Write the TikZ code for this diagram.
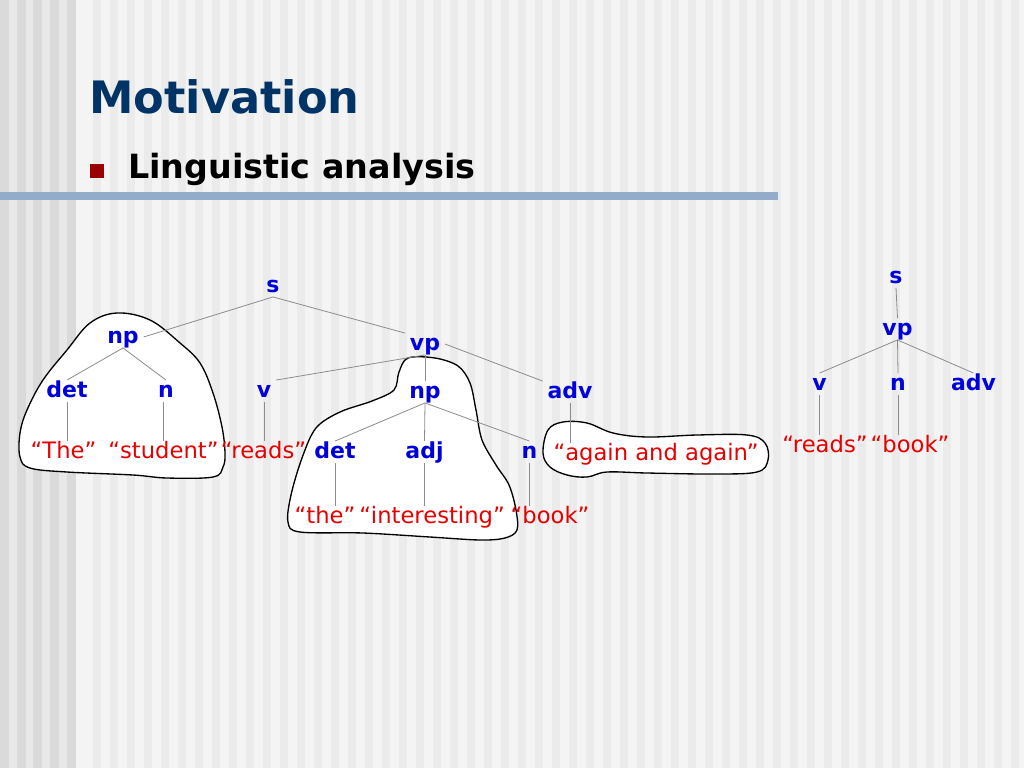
\documentclass[tikz,border=0pt]{standalone}
\usepackage{fontspec}
\setmainfont{DejaVu Sans}
\definecolor{bgbase}{RGB}{244,244,244}
\definecolor{bgstripe}{RGB}{235,235,235}
\definecolor{bgleft}{RGB}{232,232,232}
\definecolor{bgleftstripe}{RGB}{218,218,218}
\definecolor{titleblue}{RGB}{0,51,102}
\definecolor{bulletred}{RGB}{153,0,0}
\definecolor{barblue}{RGB}{146,172,202}
\definecolor{nodeblue}{RGB}{0,0,221}
\definecolor{leafred}{RGB}{230,0,0}
\definecolor{edgegray}{RGB}{140,140,140}
\begin{document}
\begin{tikzpicture}[x=0.75pt,y=-0.75pt,
  cat/.style={text=nodeblue, font=\bfseries\fontsize{16.5}{19}\selectfont, anchor=base, inner sep=3.5pt, text height=9pt, text depth=0pt},
  leaf/.style={text=leafred, font=\fontsize{17}{20}\selectfont, anchor=base, inner sep=0.5pt, text height=12pt, text depth=3pt},
  branch/.style={draw=edgegray, line width=0.6pt},
  blob/.style={draw=black, fill=white, line width=1pt}]
\useasboundingbox (0,0) rectangle (1024,768);
% background
\fill[bgbase] (0,0) rectangle (1024,768);
\fill[bgleft] (0,0) rectangle (76,768);
\foreach \x in {0,17,33,50,67} \fill[bgleftstripe] (\x,0) rectangle ++(8.5,768);
\foreach \x in {93,110,...,1024} \fill[bgstripe] (\x,0) rectangle ++(8,768);
% title
\node[anchor=base west, inner sep=0pt, text=titleblue, font=\bfseries\fontsize{33.5}{40}\selectfont] (title) at (89,113) {Motivation};
\node[fill=bulletred, minimum size=10.5pt, inner sep=0pt, anchor=north west] (bullet) at (90,164) {};
\node[anchor=base west, inner sep=0pt, font=\bfseries\fontsize{25}{30}\selectfont] (sub) at (128,178) {Linguistic analysis};
\fill[barblue] (0,192) rectangle (778,200);
% blobs
\draw[blob] plot[smooth cycle, tension=0.6] coordinates {(117,313) (150,320) (180,343) (200,363) (213,393) (222,427) (225,453) (223,467) (213,477) (167,478) (133,475) (67,472) (30,468) (20,457) (20,433) (27,410) (43,380) (67,350) (90,323)};
\draw[blob] plot[smooth cycle, tension=0.55] coordinates {(408,358) (435,358) (458,366) (470,383) (476,410) (482,440) (496,465) (509,485) (516,510) (517,530) (505,538) (480,540) (430,537) (363,533) (300,532) (288,522) (291,495) (302,458) (316,428) (340,412) (372,401) (394,390) (399,372)};
\draw[blob] plot[smooth cycle, tension=0.6] coordinates {(543,453) (548,430) (563,422) (587,423) (613,433) (647,437) (697,435) (747,435) (765,443) (768,460) (757,472) (713,474) (647,473) (607,472) (587,477) (567,475) (550,467)};
% left tree
\node[cat] (s) at (273,292) {s};
\node[cat] (np) at (123,343) {np};
\node[cat] (vp) at (425,350) {vp};
\node[cat] (det) at (67,397) {det};
\node[cat] (n) at (166,397) {n};
\node[cat] (v) at (264,397) {v};
\node[cat] (np2) at (425,398) {np};
\node[cat] (adv) at (570,398) {adv};
\node[leaf] (the1) at (63.5,458) {“The”};
\node[leaf] (student) at (163.5,458) {“student”};
\node[leaf] (reads) at (263.5,458) {“reads”};
\node[cat] (det2) at (335,458) {det};
\node[cat] (adj) at (424.5,458) {adj};
\node[cat] (n2) at (529.5,458) {n};
\node[leaf] (again) at (656,460) {“again and again”};
\node[leaf] (the2) at (325,523) {“the”};
\node[leaf] (interesting) at (432,523) {“interesting”};
\node[leaf] (book) at (550,523) {“book”};
% right tree
\node[cat] (rs) at (896,283) {s};
\node[cat] (rvp) at (897.5,335) {vp};
\node[cat] (rv) at (819.5,390) {v};
\node[cat] (rn) at (898,390) {n};
\node[cat] (radv) at (973.5,390) {adv};
\node[leaf] (rreads) at (825,452) {“reads”};
\node[leaf] (rbook) at (910,452) {“book”};
% left tree branches
\draw[branch] (s.south) -- (np.east);
\draw[branch] (s.south) -- (vp.north west);
\draw[branch] (np.south) -- (det.north);
\draw[branch] (np.south) -- (n.north);
\draw[branch] (det.south) -- (det.south |- the1.north);
\draw[branch] (student.north |- n.south) -- (student.north);
\draw[branch] (v.south) -- (v.south |- reads.north);
\draw[branch] (vp.south) -- (v.north east);
\draw[branch] (vp.south) -- (np2.north);
\draw[branch] (vp.east) -- (adv.north west);
\draw[branch] (np2.south) -- (det2.north);
\draw[branch] (np2.south) -- (adj.north);
\draw[branch] (np2.south) -- (n2.north);
\draw[branch] (det2.south) -- (det2.south |- the2.north);
\draw[branch] (adj.south) -- (adj.south |- interesting.north);
\draw[branch] (n2.south) -- (n2.south |- book.north);
\draw[branch] (adv.south) -- (adv.south |- again.north);
% right tree branches
\draw[branch] (rs.south) -- (rvp.north);
\draw[branch] (rvp.south) -- (rv.north);
\draw[branch] (rvp.south) -- (rn.north);
\draw[branch] (rvp.south) -- (radv.north);
\draw[branch] (rv.south) -- (rv.south |- rreads.north);
\draw[branch] (rn.south) -- (rn.south |- rbook.north);
\end{tikzpicture}
\end{document}
